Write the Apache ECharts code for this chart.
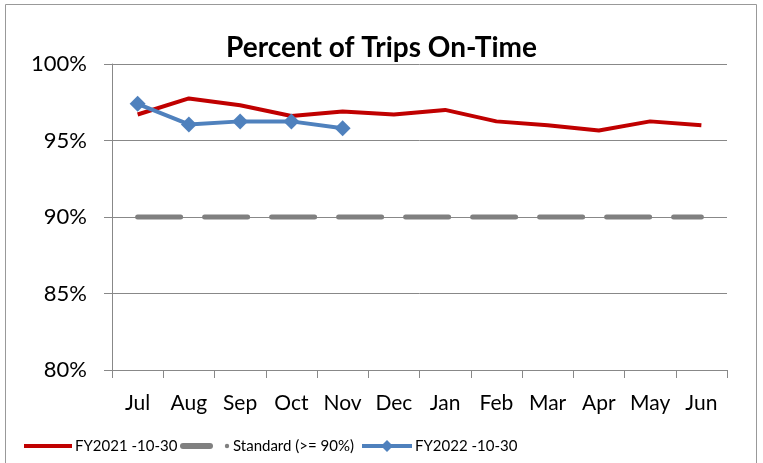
<!DOCTYPE html>
<html><head><meta charset="utf-8">
<script src="https://cdn.jsdelivr.net/npm/echarts@6/dist/echarts.min.js"></script>
<style>html,body{margin:0;padding:0;background:#fff}#c{width:763px;height:463px}</style>
</head><body><div id="c"></div>
<script>
const categories = ['Jul','Aug','Sep','Oct','Nov','Dec','Jan','Feb','Mar','Apr','May','Jun'];
const fy2021 = [96.7, 97.75, 97.3, 96.6, 96.9, 96.7, 97.0, 96.25, 96.0, 95.65, 96.25, 96.0];
const standard = [90,90,90,90,90,90,90,90,90,90,90,90];
const fy2022 = [97.4, 96.05, 96.25, 96.25, 95.8];
const yTicks = [80, 85, 90, 95, 100];
const seriesNames = ['FY2021 -10-30', 'Standard (>= 90%)', 'FY2022 -10-30'];
const FONT = 'Lato, "Noto Sans", sans-serif';

const RED = '#c00000', GRAY = '#808080', BLUE = '#4f81bd';
const LY = 446;
const LF = '15px ' + FONT;
const legendGraphics = [
  { type: 'line', shape: { x1: 24, y1: LY, x2: 72, y2: LY }, style: { stroke: RED, lineWidth: 4 } },
  { type: 'text', x: 75, y: LY, style: { text: seriesNames[0], fill: '#000', font: LF, textVerticalAlign: 'middle' } },
  { type: 'line', shape: { x1: 183, y1: LY, x2: 210, y2: LY }, style: { stroke: GRAY, lineWidth: 6, lineCap: 'round' } },
  { type: 'circle', shape: { cx: 227, cy: LY, r: 2.2 }, style: { fill: GRAY } },
  { type: 'text', x: 233, y: LY, style: { text: seriesNames[1], fill: '#000', font: LF, textVerticalAlign: 'middle' } },
  { type: 'line', shape: { x1: 362, y1: LY, x2: 412, y2: LY }, style: { stroke: BLUE, lineWidth: 4 } },
  { type: 'polygon', shape: { points: [[387, LY - 6], [393, LY], [387, LY + 6], [381, LY]] }, style: { fill: BLUE } },
  { type: 'text', x: 415, y: LY, style: { text: seriesNames[2], fill: '#000', font: LF, textVerticalAlign: 'middle' } }
];

const chart = echarts.init(document.getElementById('c'));
chart.setOption({
  animation: false,
  backgroundColor: '#fff',
  textStyle: { fontFamily: FONT },
  title: { text: 'Percent of Trips On-Time', left: 'center', top: 29,
    textStyle: { fontFamily: FONT, fontSize: 28, fontWeight: 'bold', color: '#000' } },
  graphic: [{ type: 'rect', shape: { x: 5.5, y: 4.5, width: 751, height: 470 },
    style: { fill: 'none', stroke: '#999', lineWidth: 1 }, silent: true }].concat(legendGraphics),
  grid: { left: 112, right: 36, top: 64, bottom: 93 },
  xAxis: {
    type: 'category', data: categories, boundaryGap: true,
    axisLine: { lineStyle: { color: '#888', width: 1 } },
    axisTick: { show: true, length: 8, interval: 0, lineStyle: { color: '#888' } },
    axisLabel: { fontFamily: FONT, fontSize: 21, color: '#000', margin: 23, interval: 0 }
  },
  yAxis: {
    type: 'value', min: 80, max: 100, interval: 5,
    axisLine: { show: true, lineStyle: { color: '#888' } },
    axisTick: { show: true, length: 8, lineStyle: { color: '#888' } },
    splitLine: { lineStyle: { color: '#888', width: 1 } },
    axisLabel: { fontFamily: FONT, fontSize: 22, color: '#000', margin: 25,
      formatter: v => yTicks.includes(v) ? v + '%' : '' }
  },
  series: [
    { name: seriesNames[0], type: 'line', data: fy2021, symbol: 'none',
      lineStyle: { color: RED, width: 4 }, itemStyle: { color: RED }, z: 3 },
    { name: seriesNames[1], type: 'line', data: standard, symbol: 'none',
      lineStyle: { color: GRAY, width: 5, type: [43, 24], cap: 'round' },
      itemStyle: { color: GRAY }, z: 2 },
    { name: seriesNames[2], type: 'line', data: fy2022, symbol: 'diamond', symbolSize: 16,
      lineStyle: { color: BLUE, width: 4 }, itemStyle: { color: BLUE }, z: 4 }
  ]
});
</script></body></html>
